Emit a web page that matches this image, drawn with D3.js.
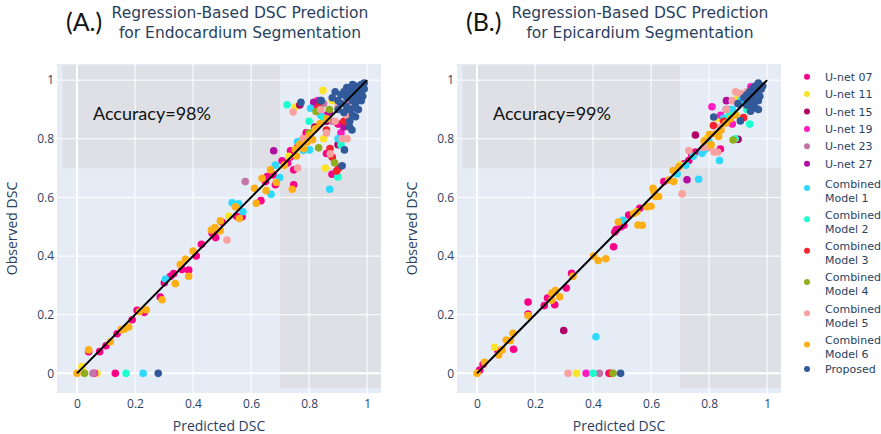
<!DOCTYPE html>
<html>
<head>
<meta charset="utf-8">
<script src="https://cdn.jsdelivr.net/npm/d3@7"></script>
<style>
  html, body { margin: 0; padding: 0; background: #ffffff; }
  svg { display: block; }
</style>
</head>
<body>
<svg id="chart" width="881" height="434"></svg>
<script>
// ---------------- DATA ----------------
const seriesNames = ["U-net 07", "U-net 11", "U-net 15", "U-net 19", "U-net 23", "U-net 27",
  "Combined Model 1", "Combined Model 2", "Combined Model 3", "Combined Model 4",
  "Combined Model 5", "Combined Model 6", "Proposed"];
const seriesColors = ["#FA0087", "#FBE426", "#B00068", "#FC1CBF", "#C075A6", "#B10DA1",
  "#2ED9FF", "#1CFFCE", "#F6222E", "#90AD1C", "#F8A19F", "#FEAF16", "#325A9B"];

const axisTicks = [0, 0.2, 0.4, 0.6, 0.8, 1];
const axisTickLabels = ["0", "0.2", "0.4", "0.6", "0.8", "1"];

const panelTitles = [
  ["Regression-Based DSC Prediction", "for Endocardium Segmentation"],
  ["Regression-Based DSC Prediction", "for Epicardium Segmentation"]
];
const panelLabels = ["(A.)", "(B.)"];
const accuracyLabels = ["Accuracy=98%", "Accuracy=99%"];

// ---- Panel A: Endocardium [predicted, observed] ----
const endoUnet07 = [[0.04,0.074],[0.078,0.074],[0.10,0.094],[0.138,0.135],[0.19,0.183],[0.207,0.215],[0.232,0.208],
  [0.287,0.26],[0.301,0.309],[0.322,0.331],[0.333,0.34],[0.362,0.354],[0.385,0.352],[0.411,0.40],[0.429,0.44],
  [0.466,0.478],[0.471,0.477],[0.478,0.463],[0.50,0.515],[0.55,0.536],[0.569,0.534],[0.634,0.589],[0.65,0.654],
  [0.656,0.671],[0.676,0.677],[0.684,0.643],[0.707,0.725],[0.726,0.717],[0.736,0.738],[0.747,0.643],[0.747,0.694],
  [0.736,0.759],[0.762,0.775],[0.79,0.82],[0.879,0.679],[0.86,0.75],[0.132,0],[0.82,0.91],[0.90,0.85]];
const endoUnet11 = [[0.017,0.023],[0.069,0],[0.523,0.536],[0.753,0.908],[0.848,0.965],[0.85,0.80],[0.856,0.70],
  [0.80,0.81],[0.88,0.93],[0.73,0.74]];
const endoUnet15 = [[0.768,0.915],[0.86,0.86],[0.90,0.78],[0.93,0.88],[0.82,0.84]];
const endoUnet19 = [[0.06,0],[0.83,0.93],[0.86,0.88],[0.78,0.80],[0.91,0.82]];
const endoUnet23 = [[0.055,0],[0.58,0.654],[0.85,0.92],[0.88,0.86],[0.94,0.93]];
const endoUnet27 = [[0.678,0.759],[0.816,0.924],[0.87,0.89],[0.92,0.84]];
const endoComb1 = [[0.228,0],[0.305,0.322],[0.535,0.582],[0.557,0.578],[0.572,0.551],[0.669,0.611],[0.684,0.71],
  [0.699,0.668],[0.805,0.904],[0.802,0.762],[0.871,0.628],[0.78,0.76],[0.76,0.79],[0.90,0.80],[0.84,0.88],[0.93,0.90]];
const endoComb2 = [[0.169,0],[0.724,0.916],[0.899,0.67],[0.85,0.87],[0.91,0.78],[0.80,0.86]];
const endoComb3 = [[0.833,0.912],[0.872,0.767],[0.902,0.70],[0.895,0.69],[0.88,0.737],[0.92,0.86],[0.86,0.83]];
const endoComb4 = [[0.026,0],[0.824,0.893],[0.833,0.769],[0.888,0.718],[0.87,0.90],[0.94,0.95],[0.80,0.82]];
const endoComb5 = [[0.517,0.455],[0.745,0.891],[0.873,0.749],[0.914,0.80],[0.931,0.80],[0.86,0.82],[0.84,0.90],
  [0.90,0.91],[0.78,0.80],[0.93,0.88],[0.89,0.86],[0.76,0.70]];
const endoComb6 = [[0,0],[0.04,0.08],[0.115,0.108],[0.152,0.149],[0.163,0.151],[0.178,0.158],[0.216,0.211],
  [0.239,0.217],[0.293,0.251],[0.339,0.306],[0.356,0.371],[0.374,0.389],[0.385,0.331],[0.40,0.417],[0.463,0.489],
  [0.475,0.497],[0.494,0.486],[0.494,0.52],[0.546,0.568],[0.56,0.528],[0.612,0.631],[0.618,0.58],[0.652,0.623],
  [0.638,0.665],[0.667,0.694],[0.687,0.651],[0.715,0.71],[0.742,0.628],[0.752,0.763],[0.768,0.781],[0.793,0.788],
  [0.803,0.812],[0.822,0.834],[0.838,0.852],[0.861,0.868],[0.757,0.741],[0.781,0.766],[0.812,0.797]];
const endoProposed = [[0.28,0],[0.772,0.924],[0.842,0.93],[0.922,0.762],[0.914,0.708],[0.90,0.93],[0.91,0.95],
  [0.92,0.96],[0.93,0.94],[0.94,0.97],[0.95,0.96],[0.96,0.98],[0.97,0.97],[0.98,0.985],[0.95,0.93],[0.96,0.95],
  [0.97,0.94],[0.98,0.96],[0.99,0.97],[0.93,0.91],[0.94,0.90],[0.95,0.88],[0.96,0.92],[0.92,0.89],[0.97,0.90],
  [0.98,0.93],[0.99,0.99],[0.95,0.985],[0.93,0.975],[0.89,0.96],[0.90,0.90],[0.94,0.86],[0.96,0.875],[0.88,0.94],
  [0.955,0.905],[0.975,0.955],[0.985,0.945],[0.965,0.965],[0.945,0.945],[0.935,0.955],[0.91,0.92],[0.94,0.84],
  [0.948,0.83],[0.839,0.93]];

// ---- Panel B: Epicardium [predicted, observed] ----
const epiUnet07 = [[0.009,0.011],[0.021,0.031],[0.072,0.077],[0.126,0.082],[0.176,0.243],[0.176,0.202],[0.232,0.231],
  [0.243,0.257],[0.268,0.234],[0.308,0.291],[0.326,0.341],[0.471,0.432],[0.475,0.482],[0.48,0.49],[0.495,0.499],
  [0.506,0.505],[0.523,0.54],[0.561,0.563],[0.644,0.654],[0.713,0.715],[0.73,0.726],[0.74,0.74],[0.753,0.755],
  [0.839,0.765],[0.455,0]];
const epiUnet11 = [[0.061,0.089],[0.343,0],[0.70,0.71],[0.83,0.87],[0.79,0.80],[0.90,0.94]];
const epiUnet15 = [[0.299,0.146],[0.753,0.813],[0.90,0.798],[0.86,0.90],[0.92,0.95]];
const epiUnet19 = [[0.376,0],[0.81,0.909],[0.944,0.977],[0.88,0.85],[0.84,0.88]];
const epiUnet23 = [[0.422,0],[0.87,0.90],[0.93,0.93]];
const epiUnet27 = [[0.724,0.66],[0.86,0.93],[0.90,0.92]];
const epiComb1 = [[0.41,0.125],[0.503,0.522],[0.69,0.68],[0.764,0.662],[0.776,0.751],[0.788,0.764],[0.836,0.726],
  [0.80,0.79],[0.85,0.87],[0.88,0.90],[0.91,0.93],[0.72,0.71],[0.745,0.74]];
const epiComb2 = [[0.40,0],[0.94,0.85],[0.89,0.80],[0.87,0.88],[0.93,0.90]];
const epiComb3 = [[0.461,0],[0.919,0.872],[0.815,0.845],[0.85,0.86],[0.94,0.92]];
const epiComb4 = [[0.469,0],[0.883,0.796],[0.94,0.91],[0.96,0.93]];
const epiComb5 = [[0.314,0],[0.707,0.612],[0.73,0.76],[0.80,0.77],[0.817,0.755],[0.83,0.755],[0.891,0.96],
  [0.905,0.955],[0.86,0.90],[0.88,0.93],[0.93,0.96],[0.95,0.91],[0.84,0.84],[0.78,0.77]];
const epiComb6 = [[0,0],[0.026,0.038],[0.075,0.063],[0.086,0.08],[0.101,0.114],[0.115,0.112],[0.124,0.137],
  [0.176,0.197],[0.258,0.274],[0.27,0.282],[0.257,0.249],[0.285,0.261],[0.331,0.331],[0.402,0.40],[0.418,0.385],
  [0.444,0.391],[0.487,0.516],[0.551,0.551],[0.54,0.545],[0.555,0.506],[0.57,0.505],[0.586,0.568],[0.60,0.57],
  [0.607,0.631],[0.615,0.603],[0.626,0.603],[0.61,0.62],[0.661,0.659],[0.678,0.654],[0.676,0.692],[0.696,0.704],
  [0.807,0.78],[0.822,0.817],[0.841,0.829],[0.858,0.853],[0.833,0.808],[0.874,0.868],[0.892,0.881],[0.783,0.792],[0.801,0.814]];
const epiProposed = [[0.495,0],[0.816,0.874],[0.908,0.861],[0.90,0.92],[0.92,0.94],[0.93,0.95],[0.94,0.96],
  [0.95,0.97],[0.96,0.98],[0.97,0.99],[0.975,0.975],[0.96,0.96],[0.95,0.94],[0.94,0.93],[0.965,0.95],[0.98,0.97],
  [0.97,0.96],[0.955,0.925],[0.96,0.905],[0.97,0.93],[0.945,0.91],[0.93,0.915],[0.985,0.98],[0.975,0.945],
  [0.965,0.935],[0.955,0.955],[0.945,0.955],[0.935,0.935],[0.97,0.90],[0.943,0.894]];

const endoSeries = [endoUnet07, endoUnet11, endoUnet15, endoUnet19, endoUnet23, endoUnet27,
  endoComb1, endoComb2, endoComb3, endoComb4, endoComb5, endoComb6, endoProposed];
const epiSeries = [epiUnet07, epiUnet11, epiUnet15, epiUnet19, epiUnet23, epiUnet27,
  epiComb1, epiComb2, epiComb3, epiComb4, epiComb5, epiComb6, epiProposed];

// Shaded regions (data coords): [x0, x1, y0, y1]
const shadeRegions = [[-0.05, 0.7, 0.7, 1.05], [0.7, 1.05, -0.05, 0.7]];
const identityLine = [[0, 0], [1, 1]];
const accuracyPos = [0.055, 0.865];

// ---------------- DRAW ----------------
const svg = d3.select("#chart");
const FONT = "'Open Sans', verdana, arial, sans-serif";
const VFONT = "'DejaVu Sans', Verdana, sans-serif";
const TXT = "#2a3f5f";

function drawPanel(idx, series) {
  const ox = idx * 400;
  const left = 57 + ox, right = 381 + ox, top = 64, bottom = 393;
  const x = d3.scaleLinear().domain([-0.069, 1.048]).range([left, right]);
  const y = d3.scaleLinear().domain([-0.067, 1.055]).range([bottom, top]);
  const g = svg.append("g");

  const clipId = "clip" + idx;
  svg.append("clipPath").attr("id", clipId).append("rect")
    .attr("x", left).attr("y", top).attr("width", right - left).attr("height", bottom - top);

  g.append("rect").attr("x", left).attr("y", top).attr("width", right - left).attr("height", bottom - top)
    .attr("fill", "#E5ECF6");

  g.append("g").attr("clip-path", `url(#${clipId})`).selectAll("rect").data(shadeRegions).join("rect")
    .attr("x", d => x(d[0])).attr("width", d => x(d[1]) - x(d[0]))
    .attr("y", d => y(d[3])).attr("height", d => y(d[2]) - y(d[3]))
    .attr("fill", "#DEE0E5");

  // grid
  const grid = g.append("g");
  grid.selectAll("line.vx").data(axisTicks).join("line")
    .attr("x1", d => x(d)).attr("x2", d => x(d)).attr("y1", top).attr("y2", bottom)
    .attr("stroke", "#ffffff").attr("stroke-width", d => d === 0 ? 2 : 1);
  grid.selectAll("line.hy").data(axisTicks).join("line")
    .attr("y1", d => y(d)).attr("y2", d => y(d)).attr("x1", left).attr("x2", right)
    .attr("stroke", "#ffffff").attr("stroke-width", d => d === 0 ? 2 : 1);

  // axes
  const fmt = d => axisTickLabels[axisTicks.indexOf(d)];
  const ax = g.append("g").attr("transform", `translate(0,${bottom})`)
    .call(d3.axisBottom(x).tickValues(axisTicks).tickFormat(fmt).tickSize(0).tickPadding(6));
  const ay = g.append("g").attr("transform", `translate(${left},0)`)
    .call(d3.axisLeft(y).tickValues(axisTicks).tickFormat(fmt).tickSize(0).tickPadding(3));
  [ax, ay].forEach(a => {
    a.select(".domain").remove();
    a.selectAll("text").attr("fill", TXT).style("font-family", FONT).style("font-size", "12px");
  });

  // points
  const pts = g.append("g").attr("clip-path", `url(#${clipId})`);
  series.forEach((arr, si) => {
    pts.append("g").selectAll("circle").data(arr).join("circle")
      .attr("cx", d => x(d[0])).attr("cy", d => y(d[1])).attr("r", 3.8)
      .attr("fill", seriesColors[si]);
  });

  // identity line
  g.append("path").datum(identityLine)
    .attr("d", d3.line().x(d => x(d[0])).y(d => y(d[1])))
    .attr("stroke", "#000000").attr("stroke-width", 2).attr("fill", "none");

  // axis titles
  g.append("text").attr("x", (left + right) / 2).attr("y", 431)
    .attr("text-anchor", "middle").attr("fill", TXT)
    .style("font-family", FONT).style("font-size", "14px").text("Predicted DSC");
  g.append("text").attr("transform", `translate(${17 + ox},${(top + bottom) / 2}) rotate(-90)`)
    .attr("text-anchor", "middle").attr("fill", TXT)
    .style("font-family", FONT).style("font-size", "14px").text("Observed DSC");

  // title
  const tt = g.append("text").attr("text-anchor", "middle").attr("fill", TXT)
    .style("font-family", VFONT).style("font-size", "15.5px");
  panelTitles[idx].forEach((line, li) => {
    tt.append("tspan").attr("x", 240 + ox).attr("y", 18 + li * 19.5).text(line);
  });

  // panel label
  g.append("text").attr("x", 66 + ox).attr("y", 31).attr("fill", "#111111")
    .style("font-family", "Lato, 'Open Sans', sans-serif").style("font-size", "25px").text(panelLabels[idx]);

  // accuracy annotation
  g.append("text").attr("x", x(accuracyPos[0])).attr("y", y(accuracyPos[1])).attr("fill", "#111111")
    .style("font-family", "Lato, 'Open Sans', sans-serif").style("font-size", "18px").text(accuracyLabels[idx]);
}

drawPanel(0, endoSeries);
drawPanel(1, epiSeries);

// legend
const legend = svg.append("g");
let cy = 76.7;
seriesNames.forEach((name, i) => {
  const words = name.startsWith("Combined") ? ["Combined", name.replace("Combined ", "")] : [name];
  const h = words.length === 1 ? 17.4 : 31.3;
  if (i > 0) {
    const prevTwo = seriesNames[i - 1].startsWith("Combined");
    cy += (prevTwo ? 31.3 : 17.4) / 2 + h / 2;
  }
  legend.append("circle").attr("cx", 807).attr("cy", cy).attr("r", 3).attr("fill", seriesColors[i]);
  const t = legend.append("text").attr("fill", TXT).style("font-family", VFONT).style("font-size", "11px");
  if (words.length === 1) {
    t.append("tspan").attr("x", 825).attr("y", cy + 4).text(words[0]);
  } else {
    t.append("tspan").attr("x", 825).attr("y", cy - 0.5).text(words[0]);
    t.append("tspan").attr("x", 825).attr("y", cy + 13.5).text(words[1]);
  }
});
</script>
</body>
</html>
